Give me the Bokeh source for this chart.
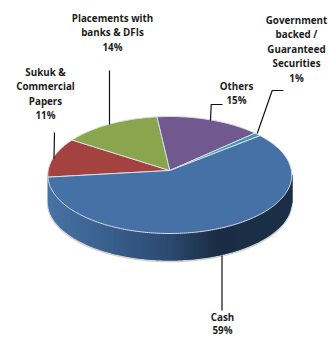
import numpy as np
from bokeh.core.properties import value
from bokeh.embed import file_html
from bokeh.models import ColumnDataSource, Range1d
from bokeh.plotting import figure
from bokeh.resources import INLINE

# Portfolio allocation, in percent, clockwise from the left of the disc
categories = ["Sukuk & Commercial Papers", "Placements with banks & DFIs", "Others",
              "Government backed / Guaranteed Securities", "Cash"]
shares = [11, 14, 15, 1, 59]
slice_colors = ["#a4423f", "#89a54e", "#71588f", "#4198af", "#4671a7"]

# Callout text, one entry per line
label_lines = [
    ["Sukuk &", "Commercial", "Papers", "11%"],
    ["Placements with", "banks & DFIs", "14%"],
    ["Others", "15%"],
    ["Government", "backed /", "Guaranteed", "Securities", "1%"],
    ["Cash", "59%"],
]
label_anchor = [(45, 72), (112, 18), (236, 86), (296, 20), (222, 316.5)]
line_steps = [14.4, 14.4, 14.4, 14.4, 13.8]

# Leader lines, as screen-space polylines
leaders = [
    ([54, 53.5], [132, 158]),
    ([109, 109], [70, 124]),
    ([222, 210.7, 210], [104, 104, 120]),
    ([283, 271.7, 256.7], [90, 90, 133]),
    ([221.5, 221.5], [255, 310]),
]

# Perspective projection of the pie disc
cx, apex_y = 169.3, 170.0
scale_x, scale_y, persp = 121.6, 58.15, 0.0769
depth = 27.0
start_angle = 186.5


def project(theta_deg):
    t = np.radians(theta_deg)
    u, v = np.cos(t), np.sin(t)
    w = 1 + persp * v
    return cx + scale_x * u / w, apex_y - scale_y * v / w


def wall_color(x):
    stops_x = [47, 100, 170, 215, 292]
    stops = np.array([[0x47, 0x73, 0xa5], [0x3b, 0x62, 0x90], [0x2b, 0x4a, 0x70],
                      [0x1b, 0x2d, 0x45], [0x1b, 0x2f, 0x48]], dtype=float)
    rgb = [int(round(np.interp(x, stops_x, stops[:, i]))) for i in range(3)]
    return "#%02x%02x%02x" % tuple(rgb)


p = figure(width=328, height=337, output_backend="svg", toolbar_location=None,
           x_range=Range1d(0, 328), y_range=Range1d(337, 0), min_border=0)
p.axis.visible = False
p.grid.visible = False
p.outline_line_color = None
p.background_fill_color = "white"

# Front half of the rim, between its widest points
rim_t = np.linspace(184.4, 355.6, 721)
rim_x, rim_y = project(rim_t)

# Soft edge beneath the rim
p.line(rim_x, rim_y + depth + 0.8, line_color="#bdbdbd", line_width=2, line_alpha=0.7)

# Side wall, built from pixel-wide columns so the shading runs left to right
col_x = np.arange(np.floor(rim_x[0]), np.ceil(rim_x[-1]) + 1)
col_y = np.interp(col_x, rim_x, rim_y)
xs, ys, colors = [], [], []
for i in range(len(col_x) - 1):
    # each column runs one pixel under its neighbour to close the seams
    x0, x1 = col_x[i], min(col_x[i] + 2, col_x[-1])
    y0, y1 = col_y[i], np.interp(x1, rim_x, rim_y)
    xs.append([x0, x1, x1, x0])
    ys.append([y0 - 1, y1 - 1, y1 + depth, y0 + depth])
    colors.append(wall_color(x0 + 0.5))
p.patches(xs, ys, fill_color=colors, line_color=None)

# Top face of the pie, one slice per share
edges = start_angle - np.cumsum([0] + shares) * 3.6
sx, sy = [], []
for i in range(len(shares)):
    t = np.linspace(edges[i], edges[i + 1], max(4, int(shares[i] * 4)))
    x, y = project(t)
    sx.append([cx, *x])
    sy.append([apex_y, *y])
slices = ColumnDataSource(data=dict(xs=sx, ys=sy, color=slice_colors, name=categories))
p.patches("xs", "ys", source=slices, fill_color="color", line_color="#d9dee6", line_width=1)

# Callout leaders and labels
for lx, ly in leaders:
    p.line(lx, ly, line_color="#111111", line_width=1.2)

for lines, (ax, ay), step in zip(label_lines, label_anchor, line_steps):
    p.text([ax] * len(lines), [ay + i * step for i in range(len(lines))], text=lines,
           text_font=value("Open Sans"), text_font_style="bold", text_font_size="9.8px",
           text_color="#1c1c1c", text_align="center", text_baseline="middle")

open("out.html", "w").write(file_html(p, INLINE))
